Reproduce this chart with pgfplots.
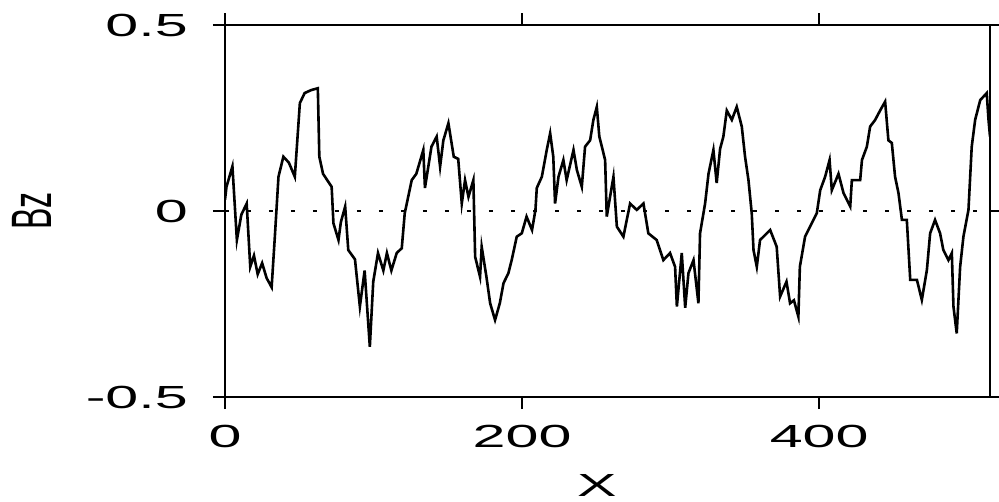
\documentclass[border=0pt]{standalone}
\usepackage{fontspec}
\setmainfont[FakeStretch=1.85]{Liberation Sans}
\newfontfamily\plainfont{Liberation Sans}
\usepackage{pgfplots}
\pgfplotsset{compat=1.18}
\begin{document}
\fontsize{32}{36}\selectfont
\begin{tikzpicture}
\useasboundingbox (-225pt,-104pt) rectangle (774pt,397pt);
\begin{axis}[
  at={(0pt,0pt)}, anchor=south west,
  scale only axis, width=765pt, height=372pt,
  xmin=0, xmax=515, ymin=-0.5, ymax=0.5,
  xtick={0,200,400}, ytick={-0.5,0,0.5},
  yticklabels={-0.5,0,0.5},
  /pgf/number format/assume math mode=true,
  axis line style={line width=2pt},
  tick style={line width=2pt, black},
  tick align=outside, major tick length=12pt,
  xtick pos=both, ytick pos=both,
  xticklabel pos=lower, yticklabel pos=left,
  ticklabel style={font=\fontsize{32}{36}\selectfont},
  yticklabel style={anchor=east, inner sep=0pt, xshift=-25pt},
  xticklabel style={anchor=north, inner sep=0pt, yshift=-16pt},
  xlabel={X}, ylabel={\scalebox{1}[1.78]{\plainfont Bz}},
  label style={font=\fontsize{32}{36}\selectfont},
  xlabel style={at={(axis description cs:0.486,0)}, anchor=center, yshift=-88pt},
  ylabel style={at={(axis description cs:0,0.5)}, anchor=center, yshift=193pt},
  clip=true,
]
\addplot[black, line width=1.6pt, dash pattern=on 4pt off 18pt] coordinates {(0,0) (515,0)};
\addplot[black, line width=2.6pt, line join=miter] coordinates {
(0,0.03) (1,0.065) (5,0.12) (8,-0.078) (11,-0.01) (14.6,0.02) (17,-0.15) (19.5,-0.12)
(22,-0.17) (25,-0.14) (28,-0.18) (31.4,-0.205) (33.7,-0.06) (36,0.092) (39.3,0.146)
(43,0.13) (47,0.092) (50.4,0.29) (53.6,0.317) (58,0.325) (62.5,0.33) (63.5,0.146)
(66,0.10) (71.8,0.065) (73,-0.033) (76.4,-0.078) (78,-0.03) (80.9,0.012) (83,-0.105)
(87.5,-0.13) (90.8,-0.257) (94,-0.16) (97.5,-0.365) (99.8,-0.19) (103,-0.113)
(106.6,-0.16) (109,-0.113) (112,-0.16) (115.6,-0.113) (119,-0.10) (121,-0.006)
(125.7,0.083) (128.8,0.10) (133.5,0.164) (134.6,0.062) (139,0.173) (142.5,0.2)
(144.8,0.119) (147,0.19) (150.4,0.236) (154,0.146) (157,0.14) (159.4,0.02)
(161.6,0.083) (163.9,0.038) (167.2,0.083) (168.4,-0.123) (171.7,-0.177) (172.8,-0.096)
(176,-0.177) (178.5,-0.248) (181.8,-0.293) (185,-0.248) (187.5,-0.194) (190.8,-0.167)
(193,-0.132) (196.4,-0.069) (199.8,-0.06) (203,-0.015) (206.7,-0.051) (209,0.003)
(209.9,0.062) (213.3,0.092) (216.6,0.164) (218.9,0.209) (221,0.146) (222.2,0.02)
(224.5,0.092) (227.8,0.137) (230,0.083) (234.6,0.164) (236.9,0.11) (240.2,0.065)
(242.4,0.173) (245.8,0.19) (248,0.245) (250.3,0.28) (252,0.2) (253.7,0.173)
(255.9,0.137) (257,-0.015) (261.5,0.092) (263.8,-0.042) (268.2,-0.069) (272.7,0.02)
(277.2,0.003) (281.7,0.02) (285,-0.06) (290.6,-0.078) (295.1,-0.132) (299.6,-0.113)
(303,-0.15) (304.2,-0.257) (307.5,-0.113) (309.8,-0.26) (312,-0.167) (315.4,-0.132)
(318.7,-0.248) (319.8,-0.06) (323.2,0.02) (325.5,0.10) (328.8,0.164) (331,0.075)
(333.3,0.167) (335.5,0.2) (337.8,0.27) (341.2,0.245) (344.5,0.28) (347.9,0.227)
(350.1,0.146) (352.4,0.083) (354.6,-0.006) (355.8,-0.105) (358,-0.15) (360.2,-0.078)
(367,-0.051) (371.4,-0.096) (373.7,-0.23) (378,-0.19) (380.4,-0.248) (383,-0.24)
(386,-0.284) (387,-0.15) (390.5,-0.069) (395,-0.033) (398.4,-0.006) (400.7,0.056)
(404,0.092) (407,0.137) (408.5,0.056) (413,0.10) (416.4,0.048) (420.9,0.012)
(422,0.083) (427.6,0.083) (428.8,0.137) (432.1,0.173) (434.3,0.227) (437.7,0.245)
(441,0.27) (444.4,0.294) (446.6,0.19) (448.9,0.183) (451.1,0.092) (453.4,0.048)
(455.7,-0.024) (459,-0.024) (461.3,-0.185) (465.8,-0.185) (469.1,-0.239) (472.5,-0.159)
(474.7,-0.06) (478,-0.024) (481.4,-0.06) (483.6,-0.105) (487,-0.132) (489.3,-0.113)
(490.4,-0.257) (492.6,-0.329) (494.9,-0.15) (497.1,-0.069) (500.5,0.003) (502.7,0.173)
(505,0.245) (508.4,0.298) (512.8,0.317) (514,0.245) (515,0.2)
};
\end{axis}
\end{tikzpicture}
\end{document}
